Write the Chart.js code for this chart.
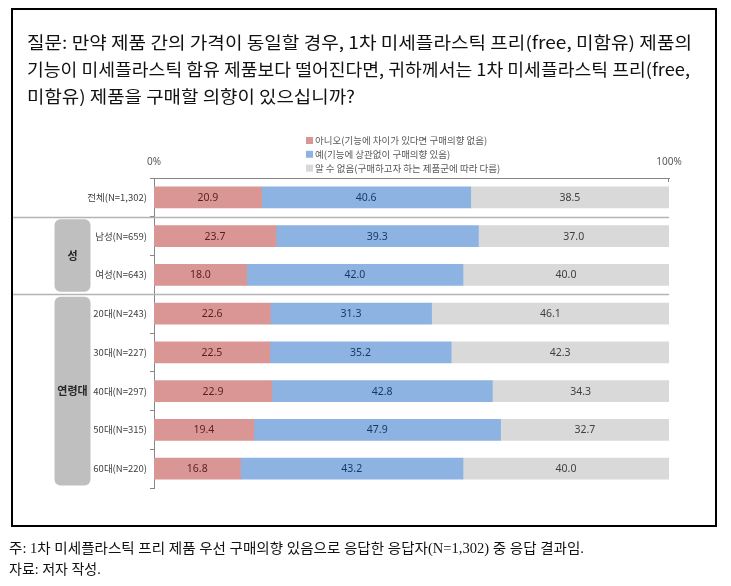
<!DOCTYPE html>
<html>
<head>
<meta charset="utf-8">
<script src="https://cdn.jsdelivr.net/npm/chart.js@4.4.1/dist/chart.umd.min.js"></script>
<style>
  html, body { margin: 0; padding: 0; background: #fff; }
  #wrap { position: relative; width: 731px; height: 586px; overflow: hidden; }
  #c { position: absolute; left: 0; top: 0; }
  #frame { position: absolute; left: 11px; top: 8px; width: 706px; height: 519px; box-sizing: border-box; border: 2px solid #000; pointer-events: none; }
  .tline { position: absolute; left: 27px; white-space: nowrap; font-family: "Noto Sans CJK KR", "Noto Sans", sans-serif; font-size: 17px; color: #111; transform-origin: 0 50%; line-height: 26px; }
  .fline { position: absolute; left: 9px; white-space: nowrap; font-family: "Liberation Serif", "Noto Sans CJK KR", serif; font-size: 14px; color: #111; transform-origin: 0 50%; line-height: 20px; }
</style>
</head>
<body>
<div id="wrap">
  <canvas id="c" width="731" height="586"></canvas>
  <div id="frame"></div>
  <div id="title"></div>
  <div id="foot"></div>
</div>
<script>
// ---- data ----
const categories = ['전체(N=1,302)', '남성(N=659)', '여성(N=643)', '20대(N=243)', '30대(N=227)', '40대(N=297)', '50대(N=315)', '60대(N=220)'];
const seriesNames = ['아니오(기능에 차이가 있다면 구매의향 없음)', '예(기능에 상관없이 구매의향 있음)', '알 수 없음(구매하고자 하는 제품군에 따라 다름)'];
const noValues = [20.9, 23.7, 18.0, 22.6, 22.5, 22.9, 19.4, 16.8];
const yesValues = [40.6, 39.3, 42.0, 31.3, 35.2, 42.8, 47.9, 43.2];
const unknownValues = [38.5, 37.0, 40.0, 46.1, 42.3, 34.3, 32.7, 40.0];
const xTickLabels = ['0%', '100%'];
const groupNames = ['성', '연령대'];
const groupStarts = [1, 3];
const groupEnds = [2, 7];
const titleLines = ['질문: 만약 제품 간의 가격이 동일할 경우, 1차 미세플라스틱 프리(free, 미함유) 제품의',
                    '기능이 미세플라스틱 함유 제품보다 떨어진다면, 귀하께서는 1차 미세플라스틱 프리(free,',
                    '미함유) 제품을 구매할 의향이 있으십니까?'];
const footLines = ['주: 1차 미세플라스틱 프리 제품 우선 구매의향 있음으로 응답한 응답자(N=1,302) 중 응답 결과임.',
                   '자료: 저자 작성.'];

// ---- styles ----
const barColors = ['#D99694', '#8DB3E2', '#D9D9D9'];
const labelColors = ['#5A1F1E', '#17375E', '#404040'];

// ---- title & footer (HTML text) ----
function placeLines(containerId, lines, cls, tops, widths) {
  const cont = document.getElementById(containerId);
  lines.forEach((t, i) => {
    const d = document.createElement('div');
    d.className = cls;
    d.style.top = tops[i] + 'px';
    d.textContent = t;
    cont.appendChild(d);
    if (widths[i]) {
      const w = d.getBoundingClientRect().width;
      d.style.transform = 'scaleX(' + (widths[i] / w) + ')';
    }
  });
}
placeLines('title', titleLines, 'tline', [29, 56, 83], [665, 663, 328]);
placeLines('foot', footLines, 'fline', [539, 560], [575, 0]);

// ---- custom drawing plugin ----
const decor = {
  id: 'decor',
  afterDraw(chart) {
    const ctx = chart.ctx;
    const ys = chart.scales.y, xs = chart.scales.x;
    const area = chart.chartArea;
    const step = (ys.getPixelForValue(1) - ys.getPixelForValue(0));
    const boundary = i => ys.getPixelForValue(i) - step / 2;
    ctx.save();
    // separators
    ctx.strokeStyle = '#B4B4B4';
    ctx.lineWidth = 1.5;
    [1, 3].forEach(i => {
      const y = Math.round(boundary(i)) + 0.5;
      ctx.beginPath(); ctx.moveTo(12, y); ctx.lineTo(area.right, y); ctx.stroke();
    });
    // group boxes
    groupNames.forEach((name, g) => {
      const top = boundary(groupStarts[g]) + 2.5;
      const bot = boundary(groupEnds[g] + 1) - 2.5;
      const left = 54.5, w = 36;
      ctx.fillStyle = '#BFBFBF';
      ctx.beginPath();
      ctx.roundRect(left, top, w, bot - top, 6);
      ctx.fill();
      ctx.fillStyle = '#262626';
      ctx.font = 'bold 11px "Noto Sans CJK KR", sans-serif';
      ctx.textAlign = 'center'; ctx.textBaseline = 'middle';
      ctx.fillText(name, left + w / 2, (top + bot) / 2);
    });
    // down tick at 100%
    ctx.strokeStyle = '#868686'; ctx.lineWidth = 1;
    const x100 = Math.round(xs.getPixelForValue(100)) - 0.5;
    ctx.beginPath(); ctx.moveTo(x100, area.top); ctx.lineTo(x100, area.top + 4); ctx.stroke();
    // data labels
    ctx.font = '10.5px "Noto Sans", "Noto Sans CJK KR", sans-serif';
    ctx.textAlign = 'center'; ctx.textBaseline = 'middle';
    chart.data.datasets.forEach((ds, di) => {
      const meta = chart.getDatasetMeta(di);
      meta.data.forEach((bar, i) => {
        ctx.fillStyle = labelColors[di];
        ctx.fillText(ds.data[i].toFixed(1), (bar.x + bar.base) / 2, bar.y + 0.5);
      });
    });
    // legend
    ctx.font = '9.5px "Noto Sans CJK KR", sans-serif';
    ctx.textAlign = 'left';
    seriesNames.forEach((n, i) => {
      const y = 140.5 + i * 13.8;
      ctx.fillStyle = barColors[i];
      ctx.fillRect(306, y - 3.5, 7, 7);
      ctx.fillStyle = '#595959';
      ctx.fillText(n, 315, y);
    });
    ctx.restore();
  }
};

const seriesValues = [noValues, yesValues, unknownValues];
new Chart(document.getElementById('c'), {
  type: 'bar',
  data: {
    labels: categories,
    datasets: seriesValues.map((vals, i) => ({
      label: seriesNames[i],
      data: vals,
      backgroundColor: barColors[i],
      borderWidth: 0,
      barThickness: 21
    }))
  },
  options: {
    indexAxis: 'y',
    responsive: false,
    devicePixelRatio: 1,
    animation: false,
    layout: { padding: { left: 0, top: 0, right: 62, bottom: 98 } },
    plugins: { legend: { display: false }, title: { display: false }, tooltip: { enabled: false } },
    scales: {
      x: {
        position: 'top',
        stacked: true,
        min: 0, max: 100,
        afterBuildTicks: s => { s.ticks = [{ value: 0 }, { value: 100 }]; },
        afterFit: s => { s.height = 178; },
        grid: { display: false, drawTicks: false },
        border: { display: true, color: '#868686', width: 1 },
        ticks: {
          padding: 10,
          color: '#595959',
          font: { family: '"Noto Sans", sans-serif', size: 10 },
          callback: v => (v === 0 ? xTickLabels[0] : xTickLabels[1])
        }
      },
      y: {
        stacked: true,
        afterFit: s => { s.width = 154; },
        grid: { display: true, drawOnChartArea: false, drawTicks: true, tickLength: 4, color: '#868686', offset: true },
        border: { display: true, color: '#868686', width: 1 },
        ticks: {
          padding: 3,
          color: '#404040',
          font: { family: '"Noto Sans CJK KR", sans-serif', size: 9.5 }
        }
      }
    }
  },
  plugins: [decor]
});
</script>
</body>
</html>
